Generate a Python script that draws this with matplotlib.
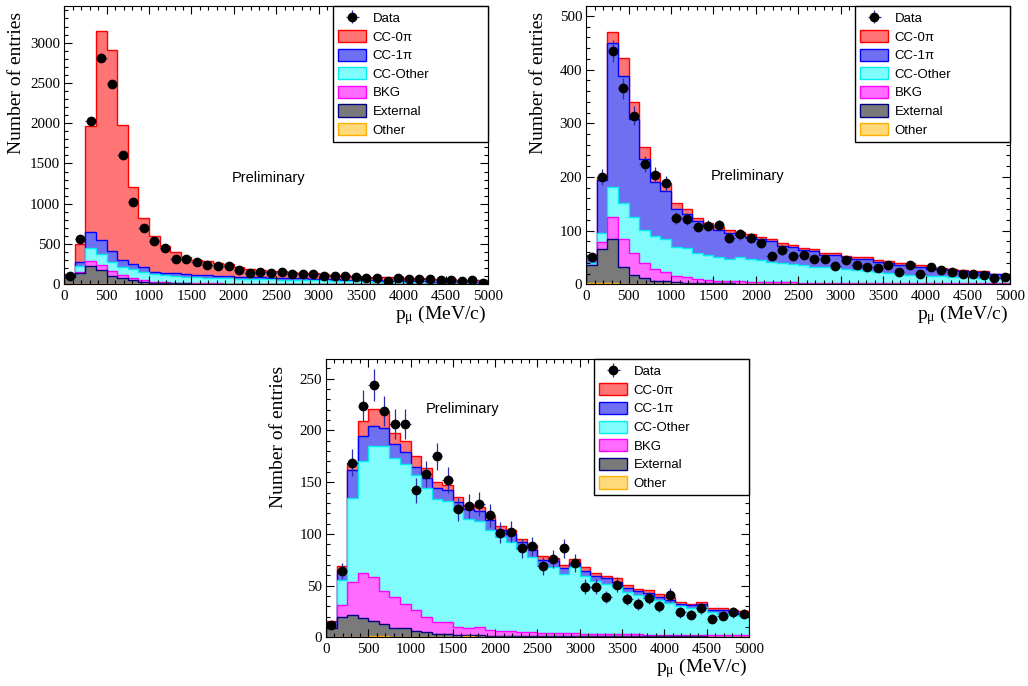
import matplotlib
matplotlib.use("Agg")
import matplotlib.pyplot as plt
from matplotlib.patches import Patch
from matplotlib.ticker import MultipleLocator
import numpy as np

plt.rcParams['font.family'] = ['Liberation Serif', 'DejaVu Serif']
plt.rcParams['mathtext.fontset'] = 'custom'
plt.rcParams['mathtext.rm'] = 'Liberation Serif'
plt.rcParams['mathtext.it'] = 'Liberation Serif:italic'

# 40 bins of 125 MeV/c between 0 and 5000
edges = np.linspace(0, 5000, 41)
centers = 0.5 * (edges[1:] + edges[:-1])

# ---- top left panel
tl_data = [108, 559, 2023, 2814, 2491, 1605, 1018, 695, 542, 447,
           319, 310, 277, 240, 223, 223, 178, 137, 149, 141,
           149, 128, 124, 124, 99, 103, 103, 95, 79, 74,
           41, 79, 62, 70, 70, 50, 50, 41, 50, 21]
tl_cc0pi = [16, 216, 1324, 2592, 2488, 1673, 965, 601, 443, 335,
            260, 216, 189, 178, 161, 144, 124, 96, 91, 86,
            81, 76, 71, 67, 62, 58, 54, 49, 43, 43,
            42, 41, 41, 40, 38, 36, 35, 33, 31, 29]
tl_cc1pi = [9, 49, 199, 177, 137, 83, 62, 62, 29, 29,
            33, 33, 29, 28, 28, 28, 25, 24, 24, 24,
            23, 22, 22, 20, 19, 18, 17, 17, 16, 15,
            14, 13, 12, 11, 10, 10, 9, 8, 8, 7]
tl_ccother = [8, 75, 157, 133, 115, 107, 103, 103, 95, 91,
              83, 78, 75, 73, 70, 67, 62, 59, 56, 54,
              51, 50, 47, 45, 43, 40, 37, 34, 32, 30,
              28, 26, 23, 21, 19, 17, 15, 14, 12, 11]
tl_bkg = [8, 20, 58, 62, 58, 37, 29, 21, 12, 8,
          9, 5, 4, 4, 4, 4, 3, 3, 3, 3,
          3, 2, 2, 2, 1, 1, 1, 1, 2, 1,
          1, 1, 1, 1, 1, 1, 1, 1, 1, 1]
tl_ext = [84, 131, 224, 172, 103, 72, 52, 31, 20, 16,
          11, 11, 7, 6, 5, 4, 4, 3, 3, 2,
          2, 2, 2, 2, 2, 2, 2, 2, 1, 1,
          1, 1, 1, 1, 1, 1, 1, 1, 1, 1]
tl_other = [3, 6, 8, 6, 5, 3, 2, 2, 1, 1,
            1, 1, 1, 1, 1, 1, 1, 1, 1, 1,
            1, 1, 1, 1, 1, 1, 1, 1, 1, 1,
            1, 1, 1, 1, 1, 1, 1, 1, 1, 1]

# ---- top right panel
tr_data = [50, 200, 435, 365, 314, 224, 204, 188, 123, 122,
           107, 109, 110, 87, 93, 87, 76, 53, 63, 53,
           55, 48, 47, 34, 45, 35, 32, 31, 35, 23,
           35, 20, 32, 26, 22, 19, 20, 18, 12, 13]
tr_cc0pi = [2, 6, 21, 33, 31, 23, 17, 16, 11, 9,
            7, 6, 6, 6, 5, 4, 4, 4, 4, 4,
            4, 4, 3, 3, 3, 3, 3, 3, 3, 3,
            3, 2, 2, 2, 2, 2, 2, 2, 1, 1]
tr_cc1pi = [13, 99, 269, 237, 183, 131, 100, 89, 71, 64,
            59, 54, 51, 47, 42, 41, 39, 38, 33, 31,
            28, 29, 23, 25, 22, 20, 22, 19, 19, 17,
            18, 16, 13, 14, 12, 12, 11, 11, 9, 9]
tr_ccother = [3, 17, 56, 67, 67, 63, 62, 62, 53, 54,
              49, 47, 43, 42, 44, 43, 40, 38, 35, 34,
              33, 30, 29, 27, 25, 24, 23, 21, 19, 17,
              16, 15, 14, 13, 12, 11, 10, 9, 8, 7]
tr_bkg = [1, 13, 40, 51, 41, 28, 21, 16, 12, 10,
          7, 6, 5, 4, 5, 4, 4, 3, 3, 3,
          2, 2, 2, 2, 2, 2, 1, 1, 1, 1,
          1, 1, 1, 1, 1, 1, 1, 1, 1, 1]
tr_ext = [33, 63, 83, 32, 16, 10, 6, 5, 4, 3,
          2, 2, 2, 2, 1, 1, 1, 1, 1, 1,
          1, 1, 1, 1, 1, 1, 1, 1, 1, 1,
          1, 1, 1, 1, 1, 1, 1, 1, 1, 1]
tr_other = [2, 2, 2, 1, 1, 1, 1, 1, 0, 0,
            0, 0, 0, 0, 0, 0, 0, 0, 0, 0,
            0, 0, 0, 0, 0, 0, 0, 0, 0, 0,
            0, 0, 0, 0, 0, 0, 0, 0, 0, 0]

# ---- bottom panel
b_data = [12, 64, 169, 224, 244, 219, 206, 206, 142, 158,
          175, 152, 124, 127, 129, 118, 101, 102, 86, 88,
          69, 76, 86, 72, 49, 49, 39, 51, 37, 32,
          38, 30, 41, 24, 22, 28, 18, 21, 24, 23]
b_cc0pi = [1, 4, 7, 14, 17, 17, 11, 11, 10, 10,
           6, 5, 5, 4, 4, 4, 4, 4, 3, 5,
           4, 3, 3, 4, 4, 3, 2, 4, 3, 2,
           3, 3, 3, 2, 1, 2, 2, 2, 1, 2]
b_cc1pi = [4, 10, 27, 25, 19, 17, 14, 11, 8, 10,
           10, 10, 9, 10, 10, 9, 7, 8, 7, 6,
           5, 6, 6, 4, 5, 5, 5, 4, 4, 4,
           4, 3, 3, 2, 3, 3, 2, 3, 3, 2]
b_ccother = [1, 24, 82, 108, 127, 140, 134, 136, 131, 124,
             119, 117, 112, 105, 102, 97, 91, 86, 80, 73,
             66, 64, 57, 64, 56, 51, 49, 46, 41, 38,
             37, 34, 31, 28, 26, 27, 22, 21, 20, 19]
b_bkg = [1, 11, 31, 43, 42, 32, 30, 23, 20, 15,
         12, 12, 8, 7, 8, 6, 5, 5, 4, 4,
         3, 3, 3, 3, 2, 2, 2, 2, 2, 2,
         1, 1, 1, 1, 1, 1, 2, 2, 2, 2]
b_ext = [9, 20, 22, 19, 15, 12, 9, 9, 6, 5,
         3, 3, 2, 1, 2, 1, 1, 1, 1, 1,
         1, 1, 1, 1, 1, 1, 1, 1, 1, 1,
         1, 1, 1, 1, 1, 1, 0, 0, 0, 0]
b_other = [0, 0, 0, 0, 1, 1, 0, 0, 0, 0,
           0, 0, 0, 1, 0, 0, 0, 0, 0, 0,
           0, 0, 0, 0, 0, 0, 0, 0, 0, 0,
           0, 0, 0, 0, 0, 0, 0, 0, 0, 0]

names = ['CC-0π', 'CC-1π', 'CC-Other', 'BKG', 'External', 'Other']
fills = ['#ff7474', '#6f6ff2', '#80fcfc', '#ff6cff', '#7a7a7a', '#ffd97a']
lines = ['#ff0000', '#0000ff', '#00eeee', '#ff00ff', '#000080', '#ffb000']
data_col = '#2b2bb0'


def draw_panel(ax, data, comps, ymax, ymajor, yminor, prelim):
    comps = np.array(comps, dtype=float)
    # cumulative stack, comps listed top -> bottom
    cum = np.cumsum(comps[::-1], axis=0)[::-1]
    for i in range(len(names)):
        ax.stairs(cum[i], edges, baseline=0, fill=True,
                  facecolor=fills[i], edgecolor=lines[i], linewidth=1.0)
    data = np.array(data, dtype=float)
    eb = ax.errorbar(centers, data, xerr=62.5, yerr=np.sqrt(data), fmt='o',
                     color='black', ms=6, ecolor=data_col, elinewidth=0.9,
                     capsize=0, zorder=5)

    ax.set_xlim(0, 5000)
    ax.set_ylim(0, ymax)
    ax.xaxis.set_major_locator(MultipleLocator(500))
    ax.xaxis.set_minor_locator(MultipleLocator(100))
    ax.yaxis.set_major_locator(MultipleLocator(ymajor))
    ax.yaxis.set_minor_locator(MultipleLocator(yminor))
    ax.tick_params(which='both', direction='in', top=True, right=True,
                   labelsize=10.8, width=0.8)
    ax.tick_params(which='major', length=6)
    ax.tick_params(which='minor', length=3)
    ax.tick_params(axis='y', pad=3)
    ax.tick_params(axis='x', pad=4)

    ax.set_ylabel('Number of entries', fontsize=14, loc='top')
    ax.yaxis.set_label_coords(-0.092, 0.978)
    ax.set_xlabel(r'p$_{\mathrm{μ}}$ (MeV/c)', fontsize=14, loc='right')
    ax.xaxis.set_label_coords(0.995, -0.068)

    ax.text(prelim[0], prelim[1], 'Preliminary', ha='center', va='center',
            family='Liberation Sans', fontsize=10.5)

    handles = [eb] + [Patch(facecolor=fills[i], edgecolor=lines[i], linewidth=1.0)
                      for i in range(len(names))]
    leg = ax.legend(handles, ['Data'] + names, loc='upper left',
                    bbox_to_anchor=(0.634, 1.0, 0.366, 0), mode='expand',
                    borderaxespad=0, prop={'family': 'Liberation Sans', 'size': 9.5},
                    handlelength=2.1, handleheight=1.05, handletextpad=0.5,
                    labelspacing=0.38, borderpad=0.4, fancybox=False,
                    framealpha=1, edgecolor='black')
    leg.get_frame().set_linewidth(1.0)
    leg.set_zorder(10)


fig = plt.figure(figsize=(10.28, 6.86), dpi=100)

ax1 = fig.add_axes([0.0625, 0.5856, 0.4125, 0.4057])
draw_panel(ax1, tl_data,
           [tl_cc0pi, tl_cc1pi, tl_ccother, tl_bkg, tl_ext, tl_other],
           3455, 500, 100, (2412, 1320))

ax2 = fig.add_axes([0.5703, 0.5856, 0.4125, 0.4057])
draw_panel(ax2, tr_data,
           [tr_cc0pi, tr_cc1pi, tr_ccother, tr_bkg, tr_ext, tr_other],
           518.6, 100, 20, (1907, 202))

ax3 = fig.add_axes([0.3171, 0.0710, 0.4115, 0.4052])
draw_panel(ax3, b_data,
           [b_cc0pi, b_cc1pi, b_ccother, b_bkg, b_ext, b_other],
           268.8, 50, 10, (1620, 221))

fig.savefig('out.png', dpi=100)
